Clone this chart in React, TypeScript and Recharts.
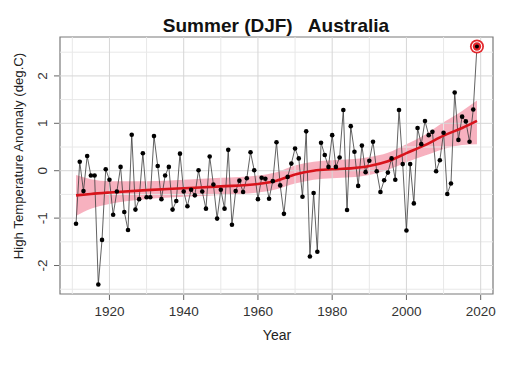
import React from 'react';
import {
  ComposedChart,
  Line,
  Area,
  XAxis,
  YAxis,
  ReferenceLine,
  ReferenceArea,
  ReferenceDot,
} from 'recharts';

// ---- data ----
const startYear = 1911;
const anomalies = [
  -1.12, 0.19, -0.43, 0.31, -0.1, -0.1, -2.4, -1.46, 0.03, -0.19,
  -0.93, -0.44, 0.08, -0.87, -1.25, 0.76, -0.82, -0.6, 0.37, -0.56,
  -0.56, 0.73, 0.1, -0.6, -0.1, 0.08, -0.82, -0.64, 0.36, -0.44,
  -0.75, -0.4, -0.52, 0.01, -0.44, -0.8, 0.3, -0.29, -1.01, -0.4,
  -0.8, 0.44, -1.14, -0.43, -0.21, -0.45, -0.16, 0.39, 0.01, -0.6,
  -0.15, -0.17, -0.59, -0.22, 0.6, -0.31, -0.91, -0.13, 0.15, 0.47,
  0.26, -0.55, 0.83, -1.81, -0.47, -1.71, 0.59, 0.33, 0.08, 0.75,
  0.08, 0.28, 1.28, -0.83, 0.94, 0.4, -0.32, 0.53, -0.03, 0.21,
  0.61, -0.01, -0.45, -0.2, -0.04, 0.26, -0.19, 1.28, 0.14, -1.26,
  0.14, -0.69, 0.9, 0.56, 1.05, 0.75, 0.82, -0.01, 0.22, 0.8,
  -0.49, -0.27, 1.65, 0.65, 1.14, 1.04, 0.61, 1.29, 2.62,
];

const trendYears = [1911, 1915, 1920, 1930, 1940, 1950, 1960, 1965, 1970, 1975, 1980, 1985, 1990, 1995, 2000, 2005, 2010, 2015, 2019];
const trendMid = [-0.52, -0.49, -0.46, -0.41, -0.37, -0.33, -0.28, -0.21, -0.08, 0.0, 0.03, 0.05, 0.1, 0.2, 0.37, 0.54, 0.74, 0.9, 1.05];
const trendLow = [-0.95, -0.8, -0.7, -0.6, -0.55, -0.51, -0.46, -0.39, -0.27, -0.19, -0.16, -0.14, -0.09, 0.02, 0.18, 0.32, 0.46, 0.54, 0.56];
const trendHigh = [-0.09, -0.18, -0.22, -0.22, -0.19, -0.15, -0.1, -0.03, 0.11, 0.19, 0.22, 0.24, 0.29, 0.38, 0.56, 0.76, 1.02, 1.26, 1.48];

const xLabelTicks = [1920, 1940, 1960, 1980, 2000, 2020];
const yLabelTicks = [-2, -1, 0, 1, 2];
const xGridMinor = [1910, 1930, 1950, 1970, 1990, 2010];
const yGridMinor = [-2.5, -1.5, -0.5, 0.5, 1.5, 2.5];

const titleText = 'Summer (DJF)   Australia';
const xTitle = 'Year';
const yTitle = 'High Temperature Anomaly (deg.C)';

// ---- derived tables ----
const obs = anomalies.map((v, i) => ({ year: startYear + i, value: v }));
const trend = trendYears.map((y, i) => ({
  year: y,
  mid: trendMid[i],
  band: [trendLow[i], trendHigh[i]],
}));
const last = obs[obs.length - 1];

const pad = (lo: number, hi: number) => {
  const r = hi - lo;
  return [lo - 0.04 * r, hi + 0.04 * r];
};
const xDomain = pad(obs[0].year, last.year);
const yDomain = pad(Math.min(...anomalies), Math.max(...anomalies));

const FONT = '"Liberation Sans", Arial, sans-serif';
const MAJOR_GRID = '#d6d6d6';
const MINOR_GRID = '#e8e8e8';

const XTick = (p: any) => (
  <g>
    <line x1={p.x} x2={p.x} y1={p.y + 1} y2={p.y + 6} stroke="#666" strokeWidth={1} />
    <text x={p.x} y={p.y + 22} textAnchor="middle" fontSize={13.5} fill="#333" fontFamily={FONT}>
      {p.payload.value}
    </text>
  </g>
);

const YTick = (p: any) => (
  <g>
    <line x1={p.x - 6} x2={p.x - 1} y1={p.y} y2={p.y} stroke="#666" strokeWidth={1} />
    <text
      x={p.x - 13}
      y={p.y}
      textAnchor="middle"
      fontSize={13.5}
      fill="#333"
      fontFamily={FONT}
      transform={`rotate(-90 ${p.x - 13} ${p.y})`}
    >
      {p.payload.value}
    </text>
  </g>
);

const Target = (p: any) => (
  <g>
    <circle cx={p.cx} cy={p.cy} r={7} fill="#e3262b" />
    <circle cx={p.cx} cy={p.cy} r={5.3} fill="#fff" />
    <circle cx={p.cx} cy={p.cy} r={4.2} fill="#e3262b" />
    <circle cx={p.cx} cy={p.cy} r={2} fill="#000" />
  </g>
);

export default function App() {
  return (
    <div style={{ position: 'absolute', left: 0, top: 0, width: 507, height: 373, background: '#fff' }}>
      <ComposedChart
        width={507}
        height={373}
        margin={{ top: 37, right: 14, bottom: 49, left: 20 }}
      >
        <XAxis
          dataKey="year"
          type="number"
          domain={xDomain}
          ticks={xLabelTicks}
          allowDataOverflow
          tickSize={0}
          tickMargin={0}
          tickLine={false}
          axisLine={false}
          height={30}
          interval={0}
          tick={<XTick />}
        />
        <YAxis
          type="number"
          domain={yDomain}
          ticks={yLabelTicks}
          allowDataOverflow
          tickSize={0}
          tickMargin={0}
          tickLine={false}
          axisLine={false}
          width={40}
          interval={0}
          tick={<YTick />}
        />
        {xGridMinor.map((v) => (
          <ReferenceLine key={'xm' + v} x={v} stroke={MINOR_GRID} strokeWidth={1} />
        ))}
        {yGridMinor.map((v) => (
          <ReferenceLine key={'ym' + v} y={v} stroke={MINOR_GRID} strokeWidth={1} />
        ))}
        {xLabelTicks.map((v) => (
          <ReferenceLine key={'xM' + v} x={v} stroke={MAJOR_GRID} strokeWidth={1} />
        ))}
        {yLabelTicks.map((v) => (
          <ReferenceLine key={'yM' + v} y={v} stroke={MAJOR_GRID} strokeWidth={1} />
        ))}
        <Area
          data={trend}
          dataKey="band"
          type="monotone"
          stroke="none"
          fill="#f6a3b4"
          fillOpacity={0.85}
          isAnimationActive={false}
        />
        <Line
          data={obs}
          dataKey="value"
          type="linear"
          stroke="#3a3a3a"
          strokeWidth={0.8}
          dot={{ r: 2.3, fill: '#000', stroke: 'none' }}
          isAnimationActive={false}
        />
        <Line
          data={trend}
          dataKey="mid"
          type="monotone"
          stroke="#d8141c"
          strokeWidth={2.6}
          dot={false}
          isAnimationActive={false}
        />
        <ReferenceDot x={last.year} y={last.value} r={7} shape={<Target />} />
        <ReferenceArea
          x1={xDomain[0]}
          x2={xDomain[1]}
          y1={yDomain[0]}
          y2={yDomain[1]}
          fill="none"
          stroke="#7a7a7a"
          strokeWidth={1.2}
        />
      </ComposedChart>
      <svg
        width={507}
        height={373}
        style={{ position: 'absolute', left: 0, top: 0, pointerEvents: 'none' }}
      >
        <text
          x={276}
          y={31.5}
          textAnchor="middle"
          fontSize={19}
          fontWeight="bold"
          fill="#111"
          fontFamily={FONT}
          style={{ whiteSpace: 'pre' }}
        >
          {titleText}
        </text>
        <text x={277} y={340} textAnchor="middle" fontSize={14} fill="#222" fontFamily={FONT}>
          {xTitle}
        </text>
        <text
          x={23}
          y={156}
          textAnchor="middle"
          fontSize={13.2}
          fill="#222"
          fontFamily={FONT}
          transform="rotate(-90 23 156)"
        >
          {yTitle}
        </text>
      </svg>
    </div>
  );
}
